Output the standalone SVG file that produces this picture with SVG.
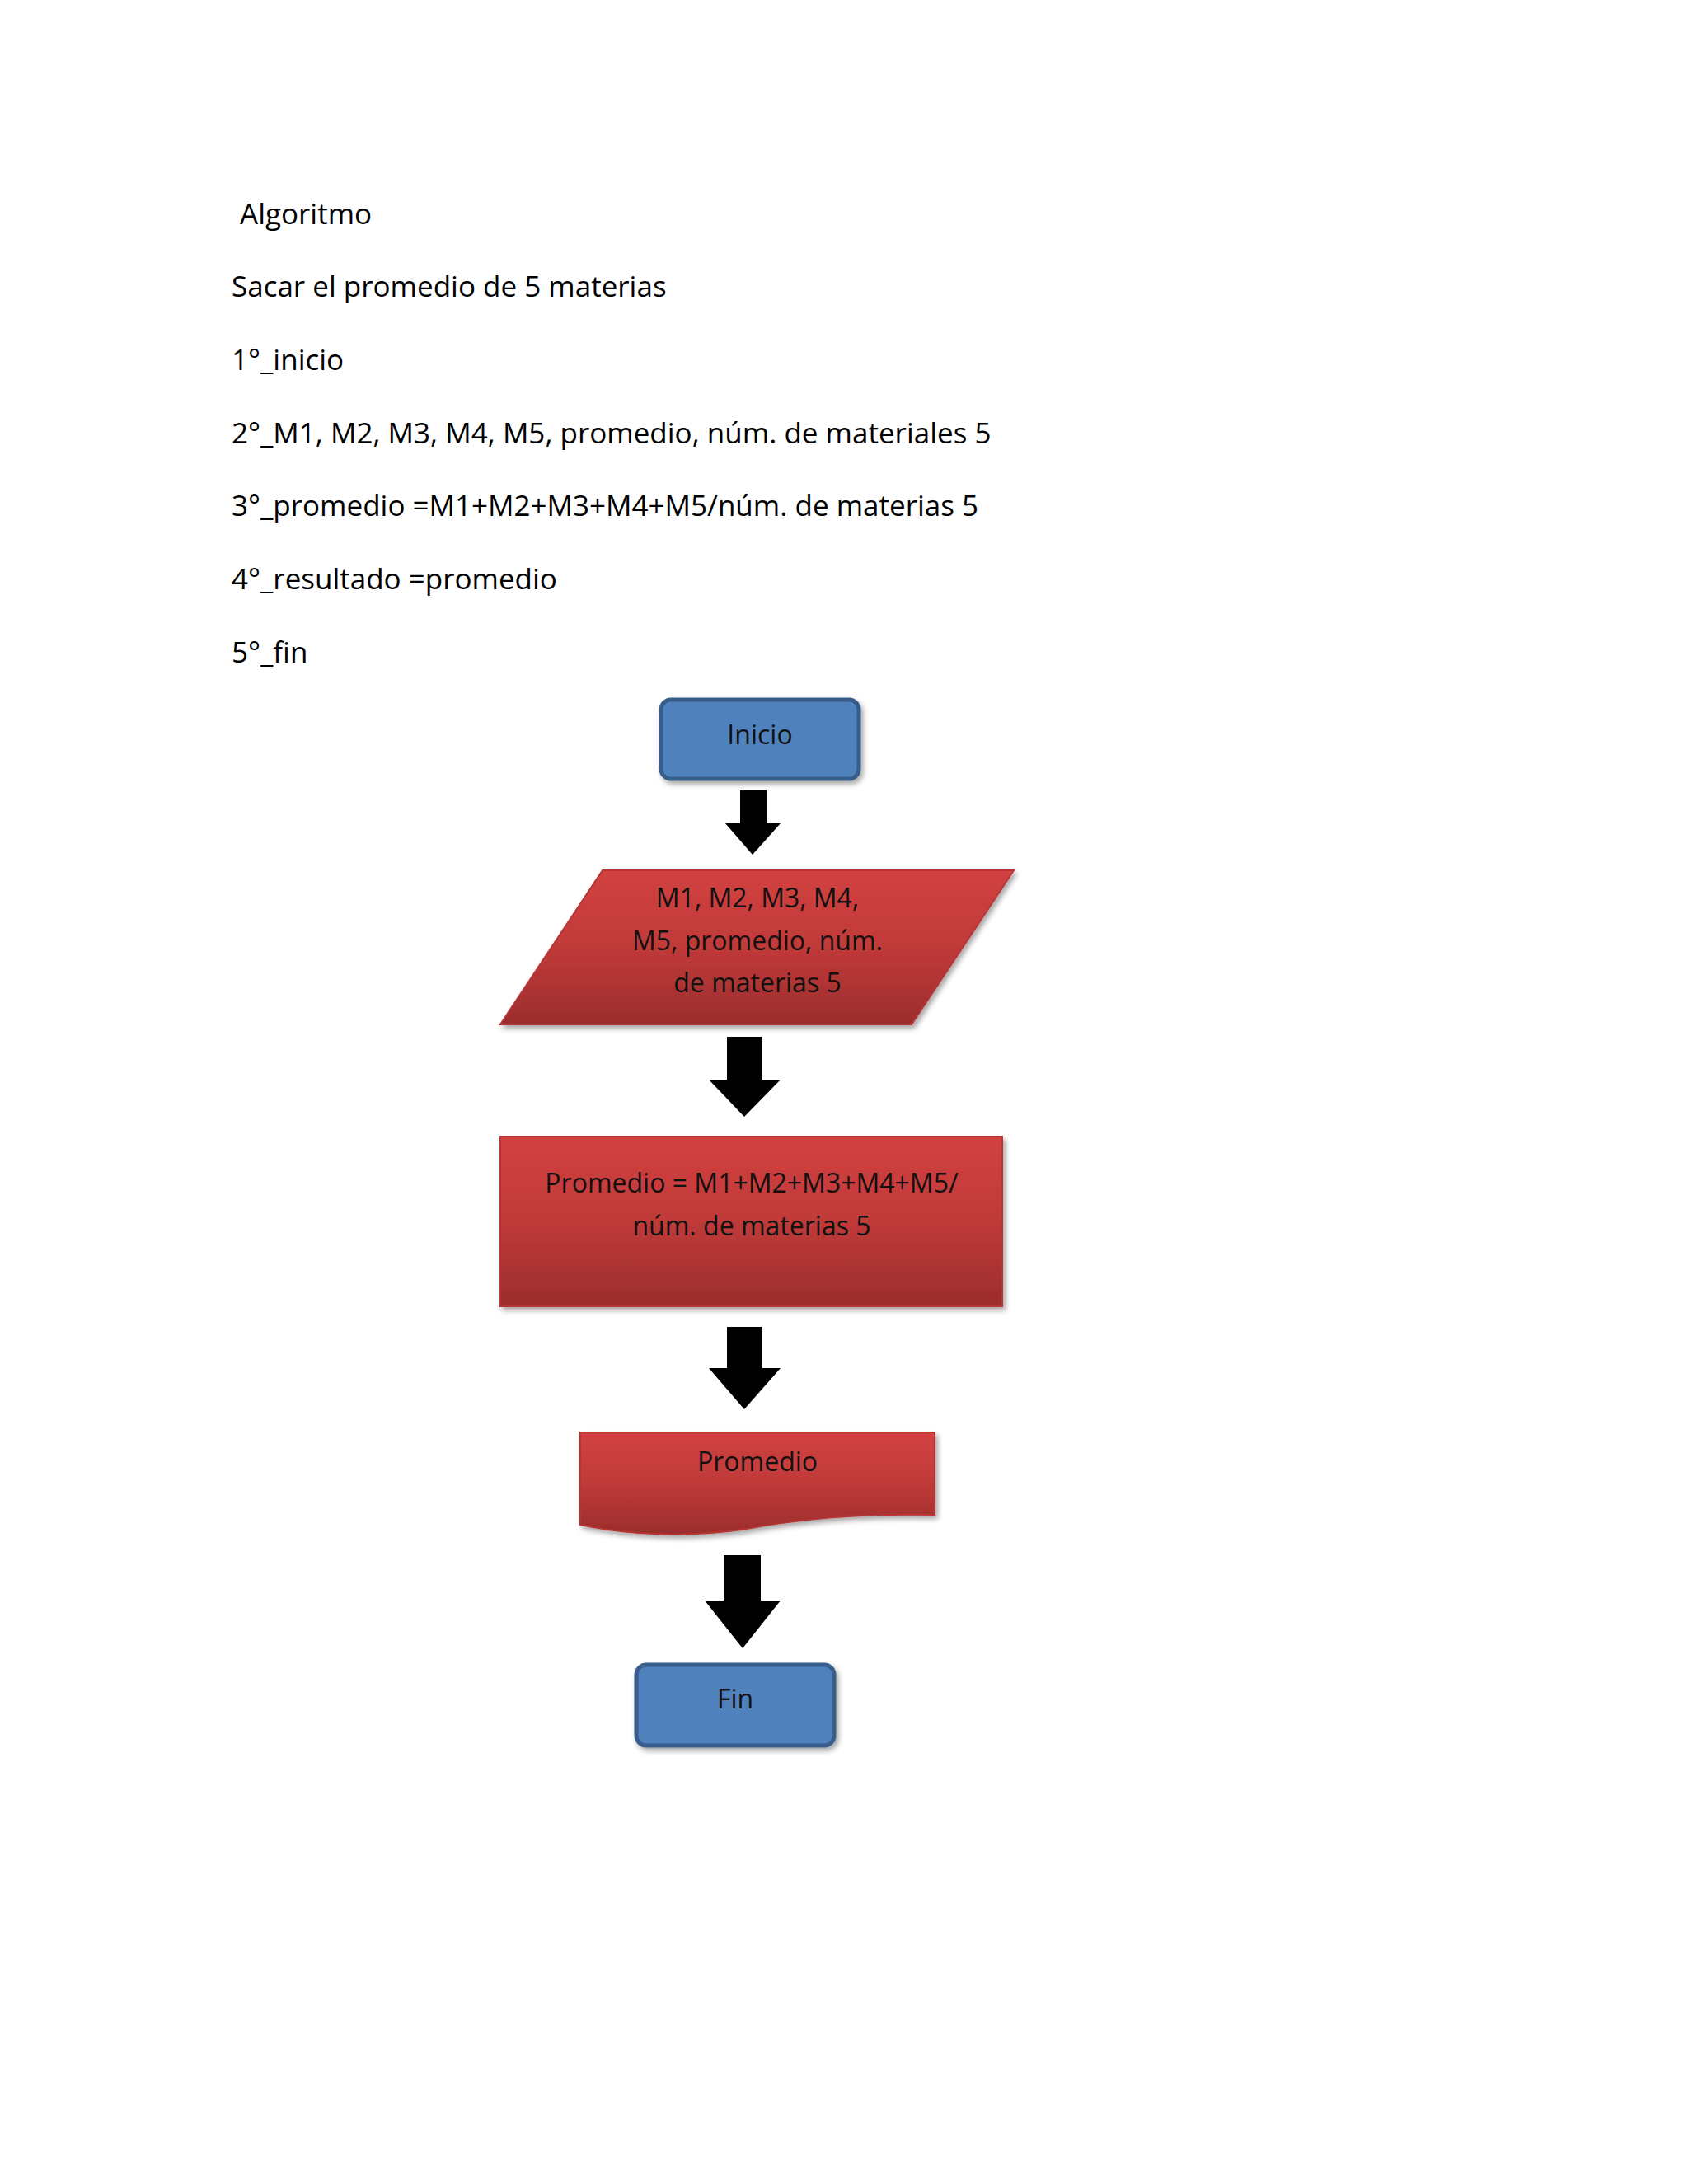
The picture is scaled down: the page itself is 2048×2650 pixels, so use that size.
<svg xmlns="http://www.w3.org/2000/svg" width="2048" height="2650" viewBox="0 0 2048 2650">
<style>
.t{font-family:"Open Sans","Liberation Sans",sans-serif;font-size:35px;fill:#000}
.n{font-family:"Open Sans","Liberation Sans",sans-serif;font-size:32px;fill:#111;text-anchor:middle;dominant-baseline:middle}
.blue{fill:#4f81bd;stroke:#385d8a;stroke-width:5}
.red{fill:url(#rg);stroke:#b83535;stroke-width:2}
.arr{fill:#000}
</style>
<defs>
<linearGradient id="rg" x1="0" y1="0" x2="0" y2="1">
<stop offset="0" stop-color="#d24140"/><stop offset="0.5" stop-color="#c03a39"/><stop offset="1" stop-color="#9b2d2c"/>
</linearGradient>
<filter id="sh" x="-10%" y="-10%" width="130%" height="130%"><feDropShadow dx="3" dy="4" stdDeviation="3" flood-opacity="0.35"/></filter>
</defs>
<rect width="2048" height="2650" fill="#fff"/>
<g id="text">
<text class="t" x="291" y="272">Algoritmo</text>
<text class="t" x="281" y="360">Sacar el promedio de 5 materias</text>
<text class="t" x="281" y="449">1°_inicio</text>
<text class="t" x="281" y="538">2°_M1, M2, M3, M4, M5, promedio, núm. de materiales 5</text>
<text class="t" x="281" y="626">3°_promedio =M1+M2+M3+M4+M5/núm. de materias 5</text>
<text class="t" x="281" y="715">4°_resultado =promedio</text>
<text class="t" x="281" y="804">5°_fin</text>
</g>
<g id="inicio"><rect class="blue" x="802" y="849" width="240" height="96" rx="12" filter="url(#sh)"/><text class="n" x="922" y="894">Inicio</text></g>
<g id="entrada"><polygon class="red" points="731,1056 1230,1056 1106,1243 607,1243" filter="url(#sh)"/>
<text class="n" x="919" y="1092">M1, M2, M3, M4,</text><text class="n" x="919" y="1144">M5, promedio, núm.</text><text class="n" x="919" y="1195">de materias 5</text></g>
<g id="proceso"><rect class="red" x="607" y="1379" width="609" height="206" filter="url(#sh)"/>
<text class="n" x="912" y="1438">Promedio = M1+M2+M3+M4+M5/</text><text class="n" x="912" y="1490">núm. de materias 5</text></g>
<g id="salida"><path class="red" d="M704,1738 H1134 V1838 C1030,1836 960,1845 900,1856 C830,1866 760,1862 704,1850 Z" filter="url(#sh)"/>
<text class="n" x="919" y="1776">Promedio</text></g>
<g id="fin"><rect class="blue" x="772" y="2020" width="240" height="98" rx="12" filter="url(#sh)"/><text class="n" x="892" y="2064">Fin</text></g>
<g id="connectors">
<polygon class="arr" points="898,959 930,959 930,999 947,999 913,1037 880,999 898,999"/>
<polygon class="arr" points="882,1258 925,1258 925,1310 947,1310 903,1355 860,1310 882,1310"/>
<polygon class="arr" points="882,1610 925,1610 925,1660 947,1660 903,1710 860,1660 882,1660"/>
<polygon class="arr" points="878,1887 923,1887 923,1942 947,1942 901,2000 855,1942 878,1942"/>
</g>
</svg>
